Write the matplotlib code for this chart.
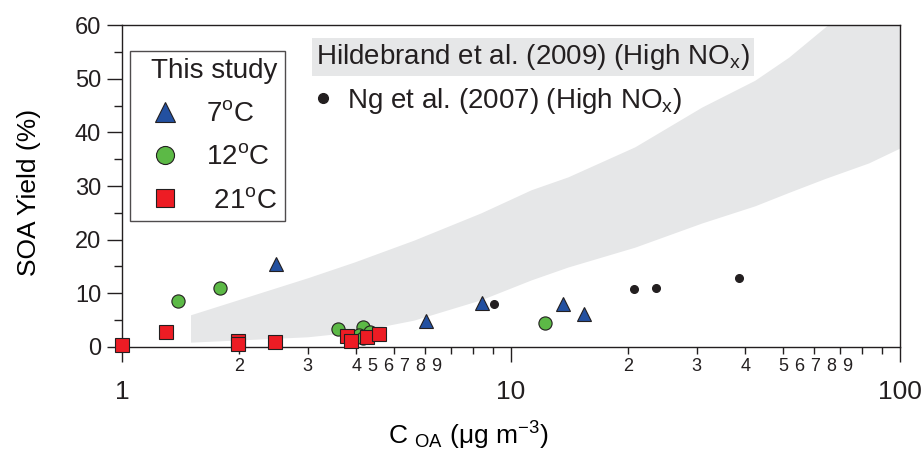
import numpy as np
import matplotlib
matplotlib.use("Agg")
import matplotlib.pyplot as plt
import matplotlib.transforms as mtransforms
from matplotlib.ticker import FixedLocator, FixedFormatter, NullFormatter
from matplotlib.lines import Line2D

plt.rcParams['font.family'] = ['Liberation Sans', 'DejaVu Sans']
plt.rcParams['mathtext.default'] = 'regular'
plt.rcParams['text.color'] = '#231f20'
plt.rcParams['axes.edgecolor'] = '#231f20'
plt.rcParams['xtick.color'] = '#231f20'
plt.rcParams['ytick.color'] = '#231f20'

# This study, 7 C
x_7c = [2.49, 6.04, 8.42, 13.6, 15.4]
y_7c = [15.5, 4.8, 8.2, 8.0, 6.1]

# This study, 12 C
x_12c = [1.39, 1.79, 3.58, 4.17, 4.06, 4.33, 4.17, 12.2]
y_12c = [8.6, 11.0, 3.3, 3.7, 2.2, 2.8, 1.7, 4.5]

# This study, 21 C
x_21c = [1.0, 1.30, 1.99, 1.99, 2.48, 3.78, 3.87, 4.26, 4.57]
y_21c = [0.4, 2.8, 1.2, 0.6, 0.9, 2.0, 1.1, 1.9, 2.4]

# Ng et al. (2007)
x_ng = [9.04, 20.7, 23.6, 38.5]
y_ng = [8.0, 10.8, 11.0, 12.8]

# Hildebrand et al. (2009) range
band_x = [1.5, 3.0, 3.94, 5.62, 8.37, 11.26, 14.0, 20.8, 30.9, 42.3, 51.7, 64.1, 83.0, 100.0]
band_lo = [0.9, 1.9, 2.8, 5.0, 8.8, 12.5, 14.9, 18.6, 23.1, 26.3, 28.8, 31.4, 34.3, 37.1]
band_hi = [6.0, 12.9, 15.8, 19.9, 25.0, 29.3, 31.7, 37.3, 44.7, 49.7, 54.0, 59.6, 66.0, 72.0]

minor_pos = [2, 3, 4, 5, 6, 7, 8, 9, 20, 30, 40, 50, 60, 70, 80, 90]
major_pos = [1, 10, 100]
major_lab = ['1', '10', '100']

fig = plt.figure(figsize=(9.23, 4.55), dpi=100)
ax = fig.add_axes([0.1322, 0.2374, 0.8430, 0.7076])

ax.fill_between(band_x, band_lo, band_hi, color='#e6e7e8', lw=0, zorder=1)

edge = '#231f20'
c7, c12, c21 = '#2350a0', '#5cb946', '#ed1c24'
ax.plot(x_7c, y_7c, ls='none', marker='^', ms=10.5, mfc=c7, mec=edge, mew=0.8, zorder=3, clip_on=False)
ax.plot(x_12c, y_12c, ls='none', marker='o', ms=9.5, mfc=c12, mec=edge, mew=0.8, zorder=3, clip_on=False)
ax.plot(x_21c, y_21c, ls='none', marker='s', ms=9.5, mfc=c21, mec=edge, mew=0.8, zorder=4, clip_on=False)
ax.plot(x_ng, y_ng, ls='none', marker='o', ms=5.5, mfc=edge, mec=edge, zorder=3)

ax.set_xscale('log')
ax.set_xlim(1, 100)
ax.set_ylim(0, 60)

ax.xaxis.set_major_locator(FixedLocator(major_pos))
ax.xaxis.set_major_formatter(FixedFormatter(major_lab))
ax.xaxis.set_minor_locator(FixedLocator(minor_pos))
ax.xaxis.set_minor_formatter(NullFormatter())
ax.tick_params(axis='x', which='major', length=11, width=1, pad=13, labelsize=19)
ax.tick_params(axis='x', which='minor', length=5, width=1)

# minor labels: the original packs the upper digits of each decade together
trans = mtransforms.blended_transform_factory(ax.transData, ax.transAxes)
for decade, pack_from in [(1, 4), (10, 5)]:
    for k in range(2, 10):
        if k <= pack_from:
            base, shift = k * decade, 0
        else:
            base, shift = pack_from * decade, (k - pack_from) * 16
        t = trans + mtransforms.ScaledTranslation(shift / 100, 0, fig.dpi_scale_trans)
        ax.text(base, -0.062, str(k), transform=t, ha='center', va='center', fontsize=13)

ax.set_yticks([0, 10, 20, 30, 40, 50, 60])
ax.set_yticks([5, 15, 25, 35, 45, 55], minor=True)
ax.yaxis.set_minor_formatter(NullFormatter())
ax.tick_params(axis='y', which='major', length=11, width=1, pad=4, labelsize=17)
ax.tick_params(axis='y', which='minor', length=6, width=1)

for s in ax.spines.values():
    s.set_linewidth(1)

ax.set_ylabel('SOA Yield (%)', fontsize=19)
ax.yaxis.set_label_coords(-0.104, 0.48)
ax.set_xlabel('C $_{OA}$ (μg m$^{-3}$)', fontsize=19)
ax.xaxis.set_label_coords(0.445, -0.225)

h7 = Line2D([], [], ls='none', marker='^', ms=15, mfc=c7, mec=edge, mew=0.8)
h12 = Line2D([], [], ls='none', marker='o', ms=13, mfc=c12, mec=edge, mew=0.8)
h21 = Line2D([], [], ls='none', marker='s', ms=13, mfc=c21, mec=edge, mew=0.8)
leg1 = ax.legend([h7, h12, h21], ['7$^{o}$C', '12$^{o}$C', ' 21$^{o}$C'],
                 title='This study', loc='upper left', bbox_to_anchor=(0.0103, 0.919),
                 fontsize=20, title_fontsize=20, frameon=True, fancybox=False,
                 edgecolor=edge, borderpad=0.25, labelspacing=0.62, handletextpad=0.5,
                 handlelength=2.0, borderaxespad=0)
leg1.get_frame().set_linewidth(1)
leg1._legend_box.align = 'right'
ax.add_artist(leg1)

ax.text(0.249, 0.901, 'Hildebrand et al. (2009) (High NO$_x$)', transform=ax.transAxes,
        fontsize=20, va='center', ha='left',
        bbox=dict(facecolor='#e6e7e8', edgecolor='none', pad=3))

hng = Line2D([], [], ls='none', marker='o', ms=7, mfc=edge, mec=edge)
ax.legend([hng], ['Ng et al. (2007) (High NO$_x$)'], loc='center left',
          bbox_to_anchor=(0.248, 0.764), frameon=False, fontsize=20,
          handlelength=0.6, handletextpad=0.55, borderaxespad=0, borderpad=0)

fig.savefig('out.png', dpi=100)
